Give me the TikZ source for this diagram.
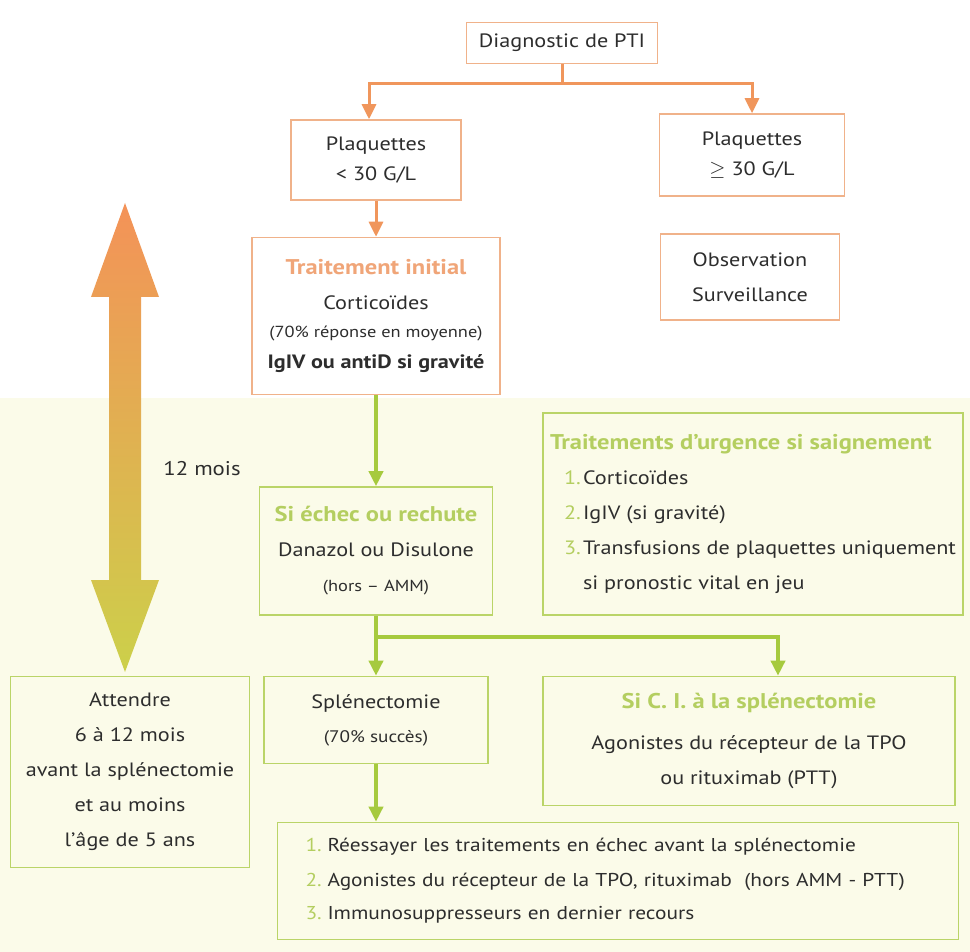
\documentclass[tikz,border=0pt]{standalone}
\usepackage{fontspec}
\setmainfont{PT Sans}[FakeStretch=1.15]
\usetikzlibrary{arrows.meta}
\definecolor{txt}{RGB}{45,45,45}
\definecolor{orng}{RGB}{240,150,92}
\definecolor{oedge}{RGB}{240,178,138}
\definecolor{otit}{RGB}{240,165,120}
\definecolor{grn}{RGB}{166,202,62}
\definecolor{gedge}{RGB}{186,212,104}
\definecolor{gtit}{RGB}{180,206,96}
\definecolor{cream}{RGB}{251,251,233}
\definecolor{flchA}{RGB}{244,146,88}
\definecolor{flchB}{RGB}{236,180,72}
\definecolor{flchC}{RGB}{204,208,74}
\newcommand{\otitre}[1]{{\fontsize{21.3}{25}\selectfont\bfseries\color{otit}#1}}
\newcommand{\gtitre}[1]{{\fontsize{21.3}{25}\selectfont\bfseries\color{gtit}#1}}
\newcommand{\petit}[1]{{\fontsize{16}{19}\selectfont #1}}
\newcommand{\num}[1]{\makebox[19pt][l]{\color{gtit}#1.}}
\tikzset{
  boite/.style = {rectangle, align=center, inner sep=0pt, text=txt,
    line width=1.6pt, font=\fontsize{19.3}{35}\selectfont},
  ob/.style = {boite, draw=oedge, fill=white},% cadre orange
  gb/.style = {boite, draw=gedge, fill=cream},% cadre vert
  ol/.style = {draw=orng, line width=3pt},% lien orange
  gl/.style = {draw=grn, line width=3.6pt}% lien vert
}
\begin{document}
\begin{tikzpicture}[x=1pt,y=-1pt,>={Triangle[length=15pt,width=14pt]}]
\useasboundingbox (0,0) rectangle (970,952);
\fill[white] (0,0) rectangle (970,398);
\fill[cream] (0,398) rectangle (970,952);

% partie haute
\node[ob, minimum width=191pt, minimum height=41pt] (diag) at (562,43) {Diagnostic de PTI};
\node[ob, minimum width=170pt, minimum height=80pt] (plqbas) at (376,160)
  {Plaquettes\\[-5pt] < 30 G/L};
\node[ob, minimum width=185pt, minimum height=82pt] (plqhaut) at (752,155)
  {Plaquettes\\[-5pt] \ensuremath{\geq} 30 G/L};
\node[ob, minimum width=248pt, minimum height=157pt] (init) at (376,316)
  {\otitre{Traitement initial}\\ Corticoïdes\\[-7pt]
   \petit{(70\% réponse en moyenne)}\\[-4pt]
   \textbf{IgIV ou antiD si gravité}};
\node[ob, minimum width=179pt, minimum height=86pt] (obs) at (750,277)
  {Observation\\ Surveillance};

% partie basse
\node[gb, minimum width=233pt, minimum height=128pt] (echec) at (376,551)
  {\gtitre{Si échec ou rechute}\\ Danazol ou Disulone\\
   \petit{(hors -- AMM)}};
\node[gb, minimum width=420pt, minimum height=202pt, align=left] (urg) at (753,514)
  {\gtitre{Traitements d’urgence si saignement}\\
   \hspace*{14pt}\num{1}Corticoïdes\\
   \hspace*{14pt}\num{2}IgIV (si gravité)\\
   \hspace*{14pt}\num{3}Transfusions de plaquettes uniquement\\
   \hspace*{33pt}si pronostic vital en jeu};
\node[gb, minimum width=224pt, minimum height=87pt] (splen) at (376,720)
  {Splénectomie\\[-1pt] {\fontsize{16.7}{19}\selectfont (70\% succès)}};
\node[gb, minimum width=412pt, minimum height=129pt] (ci) at (749,741)
  {\gtitre{Si C. I. à la splénectomie}\\[6pt]
   Agonistes du récepteur de la TPO\\ ou rituximab (PTT)};
\node[gb, minimum width=239pt, minimum height=191pt] (attendre) at (130,772)
  {Attendre\\ 6 à 12 mois\\ avant la splénectomie\\ et au moins\\ l’âge de 5 ans};
\node[gb, minimum width=681pt, minimum height=117pt, align=left,
  text width=625pt, inner xsep=28pt, font=\fontsize{18.6}{35}\selectfont] (recours) at (618,881)
  {\makebox[22pt][l]{\color{gtit}1.}Réessayer les traitements en échec avant la splénectomie\\
   \makebox[22pt][l]{\color{gtit}2.}Agonistes du récepteur de la TPO, rituximab~~(hors AMM - PTT)\\[-2pt]
   \makebox[22pt][l]{\color{gtit}3.}Immunosuppresseurs en dernier recours};

% fleche des 12 mois
\shade[top color=flchA, middle color=flchB, bottom color=flchC]
  (125,203) -- (159,297) -- (141,297) -- (141,580) -- (159,580) -- (125,672)
  -- (91,580) -- (109,580) -- (109,297) -- (91,297) -- cycle;
\node[text=txt, font=\fontsize{19.8}{23}\selectfont] (duree) at (202,469) {12 mois};

% liens
\coordinate (fk1) at (562,84);
\draw[ol] (diag) -- (fk1);
\draw[ol,->] (fk1) -| ([xshift=-7pt]plqbas.north);
\draw[ol,->] (fk1) -| (plqhaut);
\draw[ol,->] (plqbas) -- (init);
\draw[gl,->] (init) -- (echec);
\coordinate (fk2) at (376,637);
\draw[gl] (echec) -- (fk2);
\draw[gl,->] (fk2) -- (splen);
\draw[gl,->] (fk2) -| ([xshift=29pt]ci.north);
\draw[gl,->] (splen) -- (splen.south |- recours.north);
\end{tikzpicture}
\end{document}
